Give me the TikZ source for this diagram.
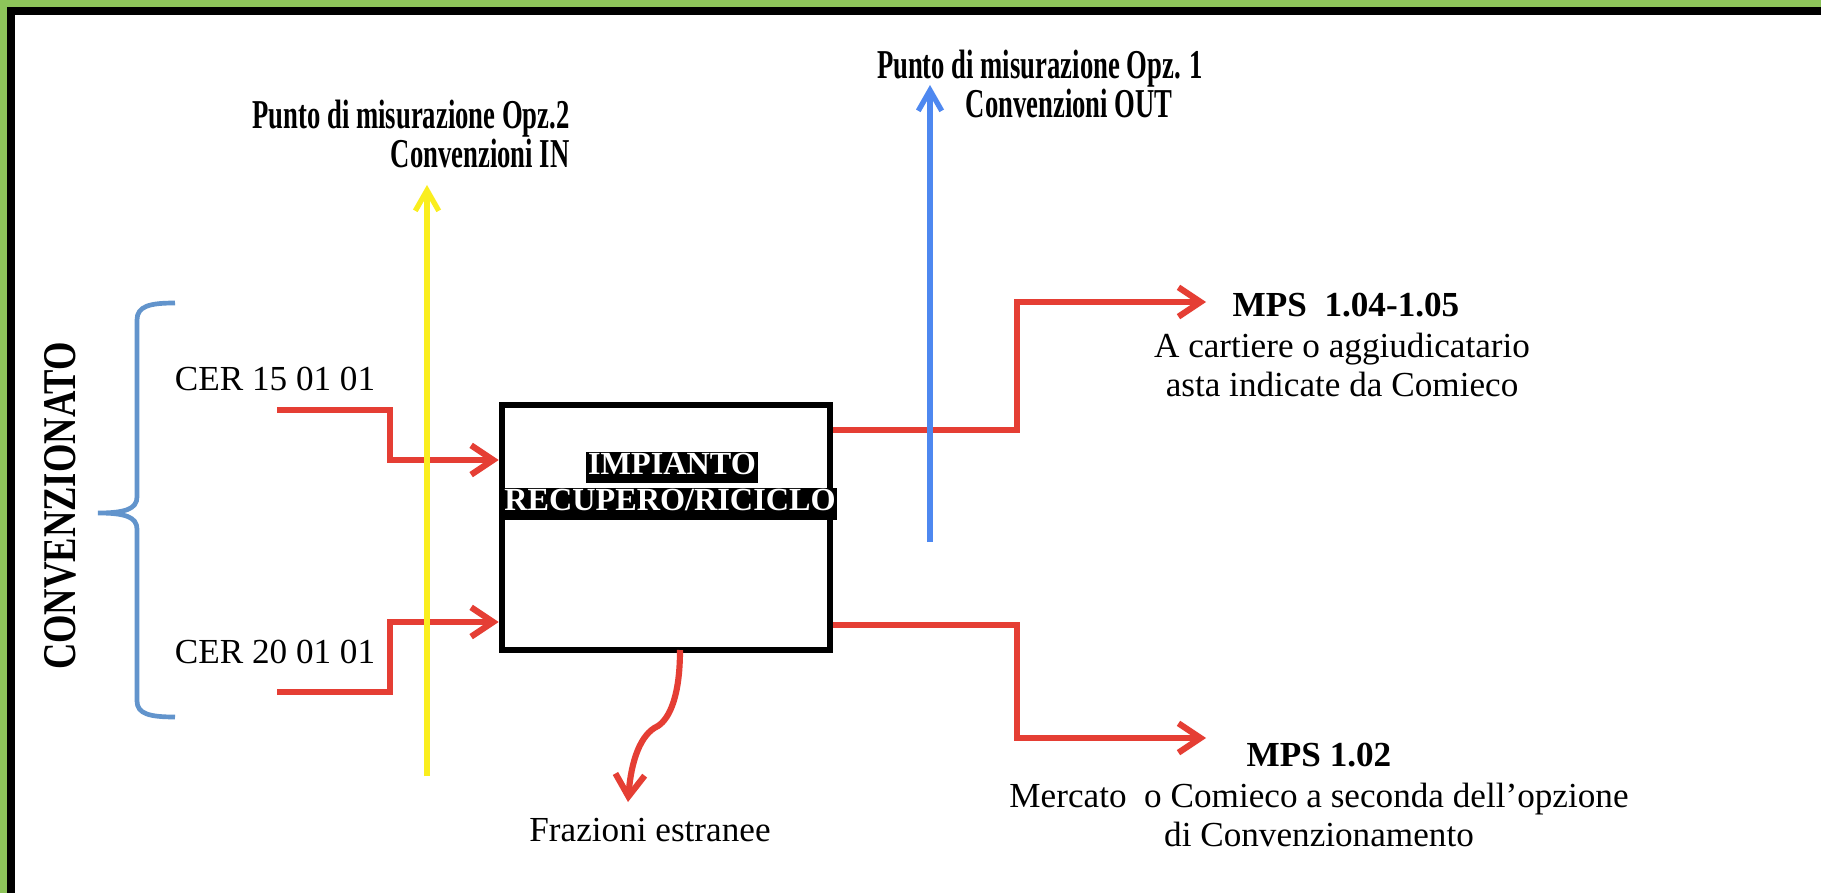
\documentclass[tikz,border=0pt]{standalone}
\usepackage{fontspec}
\setmainfont{Liberation Serif}
\newfontfamily\condfont[FakeStretch=0.65]{Liberation Serif}
\newfontfamily\sidefont[FakeStretch=0.78]{Liberation Serif}
\usetikzlibrary{arrows.meta}
\definecolor{frame_green}{RGB}{141, 196, 90}
\definecolor{flow_red}{RGB}{229, 62, 52}
\definecolor{in_yellow}{RGB}{250, 238, 30}
\definecolor{out_blue}{RGB}{78, 136, 240}
\definecolor{brace_blue}{RGB}{98, 148, 204}
\tikzstyle{none}=[inner sep=0pt]
\tikzstyle{plant}=[rectangle,draw=black,line width=2.2pt,
  minimum width=112pt,minimum height=83.6pt]
\tikzstyle{plantlbl}=[fill=black,text=white,font=\fontsize{11}{11}\selectfont\bfseries,
  inner xsep=0.6pt,inner ysep=0pt,text height=7.6pt,text depth=3pt]
\tikzstyle{txt}=[font=\fontsize{12}{13.6}\selectfont,align=center,inner sep=0pt]
\tikzstyle{btxt}=[font=\fontsize{12}{13}\selectfont\bfseries,align=center,inner sep=0pt]
\tikzstyle{ptxt}=[font=\fontsize{14}{13}\selectfont\condfont\bfseries,inner sep=0pt]
\tikzstyle{side}=[font=\fontsize{16}{16}\selectfont\sidefont\bfseries,inner sep=0pt]
\tikzstyle{flow}=[draw=flow_red,line width=2.1pt,line join=miter,
  -{Straight Barb[length=7.5pt,width=10pt]}]
\tikzstyle{meas_in}=[draw=in_yellow,line width=1.8pt,-{Straight Barb[length=7pt,width=8pt]}]
\tikzstyle{meas_out}=[draw=out_blue,line width=1.8pt,-{Straight Barb[length=7pt,width=8pt]}]

\begin{document}
\begin{tikzpicture}[x=0.012cm, y=-0.012cm]
		\useasboundingbox (0, 0) rectangle (1821, 893);
		\fill [frame_green] (0, 0) rectangle (1821, 893);
		\fill [black] (7, 7) rectangle (1821, 893);
		\fill [white] (15, 15) rectangle (1821, 893);
		\draw [brace_blue, line width=1.6pt] (175, 303) .. controls (150, 303) and (137, 306) .. (137, 320)
			to (137, 497) .. controls (137, 509) and (125, 513) .. (98, 513)
			.. controls (125, 513) and (137, 517) .. (137, 529)
			to (137, 701) .. controls (137, 714) and (150, 717) .. (175, 717);
		\node [style=side, rotate=90] (0) at (60, 506) {CONVENZIONATO};
		\node [style=txt] (1) at (275, 379) {CER 15 01 01};
		\node [style=txt] (2) at (275, 652) {CER 20 01 01};
		\node [style=plant] (3) at (666, 527.5) {};
		\node [style=plantlbl] (4) at (672, 467.5) {IMPIANTO\hspace{3pt}};
		\node [style=plantlbl] (5) at (670, 504) {RECUPERO/RICICLO};
		\node [style=ptxt, align=right] (6) at (411, 134) {Punto di misurazione Opz.2\\Convenzioni IN};
		\node [style=ptxt, align=center] (7) at (1040, 84) {Punto di misurazione Opz. 1\\\hspace*{20pt}Convenzioni OUT};
		\node [style=btxt] (8) at (1346, 305) {MPS\ \ 1.04-1.05};
		\node [style=txt] (9) at (1342, 365) {A cartiere o aggiudicatario\\asta indicate da Comieco};
		\node [style=btxt] (10) at (1319, 755) {MPS 1.02};
		\node [style=txt] (11) at (1319, 815) {Mercato\ \ o Comieco a seconda dell’opzione\\di Convenzionamento};
		\node [style=txt] (12) at (650, 830) {Frazioni estranee};
		\node [style=none] (13) at (277, 410) {};
		\node [style=none] (14) at (390, 410) {};
		\node [style=none] (15) at (390, 460) {};
		\node [style=none] (16) at (277, 692) {};
		\node [style=none] (17) at (390, 692) {};
		\node [style=none] (18) at (390, 622) {};
		\node [style=none] (19) at (1017, 430) {};
		\node [style=none] (20) at (1017, 302) {};
		\node [style=none] (21) at (1206, 302) {};
		\node [style=none] (22) at (1017, 625) {};
		\node [style=none] (23) at (1017, 738) {};
		\node [style=none] (24) at (1206, 738) {};
		\node [style=none] (25) at (427, 776) {};
		\node [style=none] (26) at (427, 185) {};
		\node [style=none] (27) at (930, 542) {};
		\node [style=none] (28) at (930, 85) {};
		\node [style=none] (29) at (680, 650) {};
		\node [style=none] (30) at (658, 726) {};
		\node [style=none] (31) at (628, 802) {};
		\draw [style=flow] (13.center) to (14.center) to (15.center) to (3.west |- 15.center);
		\draw [style=flow] (16.center) to (17.center) to (18.center) to (3.west |- 18.center);
		\draw [style=flow] (3.east |- 19.center) to (19.center) to (20.center) to (21.center);
		\draw [style=flow] (3.east |- 22.center) to (22.center) to (23.center) to (24.center);
		\draw [style=flow] (29.center) .. controls +(0, 45) and +(12, -8) .. (30.center)
			.. controls +(-18, 8) and +(3, -40) .. (31.center);
		\draw [style=meas_in] (25.center) to (26.center);
		\draw [style=meas_out] (27.center) to (28.center);
\end{tikzpicture}
\end{document}
